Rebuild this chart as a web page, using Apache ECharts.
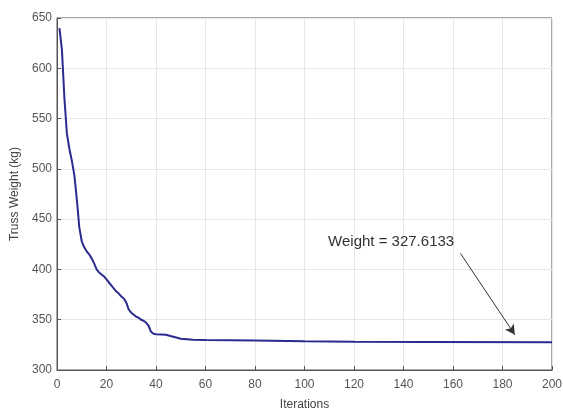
<!DOCTYPE html>
<html>
<head>
<meta charset="utf-8">
<script src="https://cdn.jsdelivr.net/npm/echarts@6/dist/echarts.min.js"></script>
<style>
  html, body { margin: 0; padding: 0; background: #fff; }
  #chart { width: 563px; height: 409px; }
</style>
</head>
<body>
<div id="chart"></div>
<script>
// values
const iterations = [1, 2, 3, 4, 5, 6, 7, 8, 9, 10, 11, 12, 13, 14, 15, 16, 17, 18, 19, 20,
  21, 22, 23, 24, 25, 26, 27, 28, 29, 30, 31, 32, 33, 34, 35, 36, 37, 38, 39, 40,
  44, 47, 50, 55, 60, 80, 100, 120, 150, 200];
const weights = [640, 618, 570, 535, 520, 508, 494, 470, 442, 428, 422, 418, 415, 411, 406, 400, 397, 395, 393, 390,
  387, 384, 381, 378, 376, 373, 371, 367, 360, 357, 355, 353, 352, 350, 349, 347, 344, 338, 336, 335.5,
  335, 333, 331, 330, 329.8, 329.4, 328.5, 328, 327.8, 327.6];
const xTicks = [0, 20, 40, 60, 80, 100, 120, 140, 160, 180, 200];
const yTicks = [300, 350, 400, 450, 500, 550, 600, 650];
const noteText = 'Weight = 327.6133';
const notePos = [135, 427];
const arrowFrom = [163, 416];
const arrowTo = [185, 335];

const chart = echarts.init(document.getElementById('chart'));
const font = 'Arial, "Liberation Sans", sans-serif';

const option = {
  animation: false,
  grid: {
    left: 57, right: 11, top: 18, bottom: 39,
    containLabel: false, outerBoundsMode: 'none',
    show: true, borderColor: '#555', borderWidth: 1
  },
  xAxis: {
    type: 'value',
    min: xTicks[0],
    max: xTicks[xTicks.length - 1],
    interval: 20,
    name: 'Iterations',
    nameLocation: 'middle',
    nameGap: 29,
    nameTextStyle: { color: '#444', fontSize: 12, fontFamily: font },
    axisLine: { lineStyle: { color: '#555' } },
    axisTick: { inside: true, length: 4, lineStyle: { color: '#555' } },
    axisLabel: { color: '#555', fontSize: 12, fontFamily: font, margin: 9 },
    splitLine: { show: true, lineStyle: { color: '#e6e6e6' } }
  },
  yAxis: {
    type: 'value',
    min: yTicks[0],
    max: yTicks[yTicks.length - 1],
    interval: 50,
    name: 'Truss Weight (kg)',
    nameLocation: 'middle',
    nameGap: 35,
    nameTextStyle: { color: '#444', fontSize: 12, fontFamily: font },
    axisLine: { show: true, lineStyle: { color: '#555' } },
    axisTick: { show: true, inside: true, length: 4, lineStyle: { color: '#555' } },
    axisLabel: { color: '#555', fontSize: 12, fontFamily: font, margin: 5 },
    splitLine: { show: true, lineStyle: { color: '#e6e6e6' } }
  },
  series: [{
    type: 'line',
    data: iterations.map((it, i) => [it, weights[i]]),
    showSymbol: false,
    lineStyle: { color: '#2b2b8f', width: 2 },
    itemStyle: { color: '#2b2b8f' },
    markPoint: {
      symbol: 'circle',
      symbolSize: 0,
      label: {
        show: true,
        formatter: noteText,
        color: '#333',
        fontSize: 15,
        fontFamily: font
      },
      data: [{ coord: notePos }]
    },
    markLine: {
      silent: true,
      symbol: ['none', 'arrow'],
      symbolSize: [8, 10],
      label: { show: false },
      lineStyle: { color: '#333', width: 1, type: 'solid' },
      data: [[{ coord: arrowFrom }, { coord: arrowTo }]]
    }
  }]
};

chart.setOption(option);
</script>
</body>
</html>
